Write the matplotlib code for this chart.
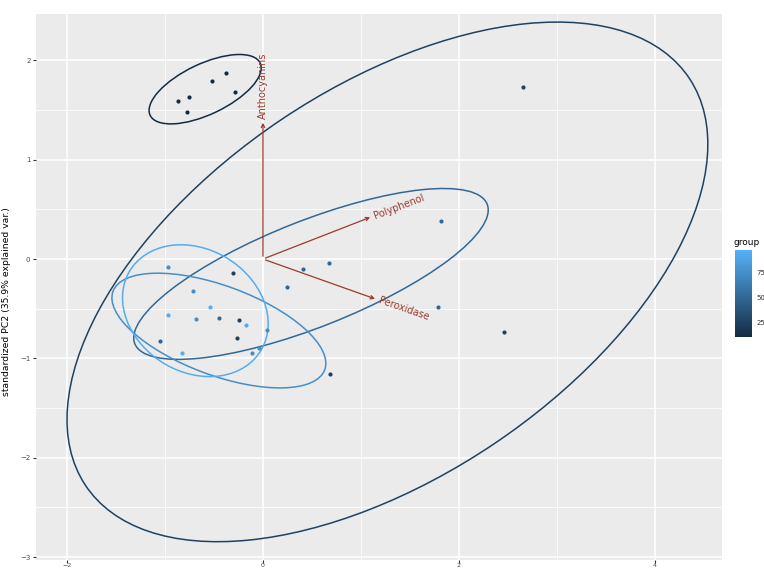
import numpy as np
import matplotlib
matplotlib.use("Agg")
import matplotlib.pyplot as plt
from matplotlib.patches import Ellipse
from matplotlib.colors import LinearSegmentedColormap, Normalize
from matplotlib.colorbar import ColorbarBase

# group value of each cluster (continuous colour scale)
groups = [10, 25, 50, 75, 95]

# PC scores per group
pc1 = {
    10: [-0.87, -0.75, -0.78, -0.52, -0.38, -0.29],
    25: [2.65, 2.46, 0.68, -0.31, -0.27, -0.24],
    50: [1.82, 1.79, 0.67, 0.41, 0.25, -1.05, -0.45],
    75: [-0.97, -0.71, -0.68, 0.04, -0.04, -0.11],
    95: [-0.54, -0.17, -0.83, -0.97],
}
pc2 = {
    10: [1.59, 1.63, 1.48, 1.79, 1.87, 1.68],
    25: [1.73, -0.73, -1.16, -0.14, -0.79, -0.61],
    50: [0.38, -0.48, -0.04, -0.10, -0.28, -0.83, -0.59],
    75: [-0.08, -0.32, -0.60, -0.71, -0.90, -0.95],
    95: [-0.48, -0.66, -0.95, -0.56],
}

# normal-probability ellipses: centre, semi axes, angle (deg)
ell_cx = [-0.59, 1.27, 0.49, -0.45, -0.69]
ell_cy = [1.71, -0.23, -0.15, -0.72, -0.52]
ell_a = [0.62, 3.70, 1.93, 1.15, 0.78]
ell_b = [0.255, 1.96, 0.535, 0.45, 0.62]
ell_ang = [25, 33.5, 21.3, -20, -30]

# variable loadings
var_names = ["Anthocyanins", "Polyphenol", "Peroxidase"]
var_x = [0.0, 1.12, 1.17]
var_y = [1.40, 0.43, -0.41]

cmap = LinearSegmentedColormap.from_list("gg", ["#132B43", "#56B1F7"])
norm = Normalize(vmin=10, vmax=98)

fig = plt.figure(figsize=(7.64, 5.71), dpi=100)
ax = fig.add_axes([36 / 764, 1 - 560 / 571, 686 / 764, 546 / 571])
ax.set_facecolor("#EBEBEB")
ax.set_xlim(-2.316, 4.684)
ax.set_ylim(-3.03, 2.467)

ax.set_xticks([-2, 0, 2, 4])
ax.set_yticks([-3, -2, -1, 0, 1, 2])
ax.set_xticks([-1, 1, 3], minor=True)
ax.set_yticks([-2.5, -1.5, -0.5, 0.5, 1.5], minor=True)
ax.grid(True, which="major", color="white", lw=1.1)
ax.grid(True, which="minor", color="white", lw=0.55)
ax.set_axisbelow(True)
for s in ax.spines.values():
    s.set_visible(False)
ax.tick_params(which="major", length=2.5, color="#333333", labelsize=5,
               labelcolor="#4D4D4D", pad=1.5)
ax.tick_params(axis="x", which="major", length=2, pad=0.3, labelsize=4.5)
ax.tick_params(which="minor", length=0)

# points
for g in groups:
    ax.scatter(pc1[g], pc2[g], s=9, color=cmap(norm(g)), zorder=3, lw=0)

# ellipses
for i, g in enumerate(groups):
    e = Ellipse((ell_cx[i], ell_cy[i]), 2 * ell_a[i], 2 * ell_b[i], angle=ell_ang[i],
                fill=False, ec=cmap(norm(g)), lw=1.1, zorder=2)
    ax.add_patch(e)

# arrows + labels
for name, vx, vy in zip(var_names, var_x, var_y):
    ax.annotate("", xy=(vx, vy), xytext=(0, 0),
                arrowprops=dict(arrowstyle="->", color="#9a3a2e", lw=0.9,
                                mutation_scale=6), zorder=4)
    ang = np.degrees(np.arctan2(vy, vx))
    ax.text(vx * 1.01, vy * 1.01, name, rotation=ang, rotation_mode="anchor",
            ha="left", va="center", fontsize=7, color="#9a3a2e", zorder=5)

ax.set_ylabel("standardized PC2 (35.9% explained var.)", fontsize=6.7)
ax.yaxis.set_label_coords(-0.036, 0.474)

# colour bar legend
cax = fig.add_axes([735 / 764, 1 - 337 / 571, 17 / 764, 87 / 571])
cb = ColorbarBase(cax, cmap=cmap, norm=norm, ticks=[25, 50, 75])
cb.outline.set_visible(False)
cax.tick_params(length=2, color="white", labelsize=5, labelcolor="#333333", pad=1)
fig.text(733 / 764, 1 - 243 / 571, "group", fontsize=6.5, ha="left", va="center")

fig.savefig("out.png", dpi=100)
